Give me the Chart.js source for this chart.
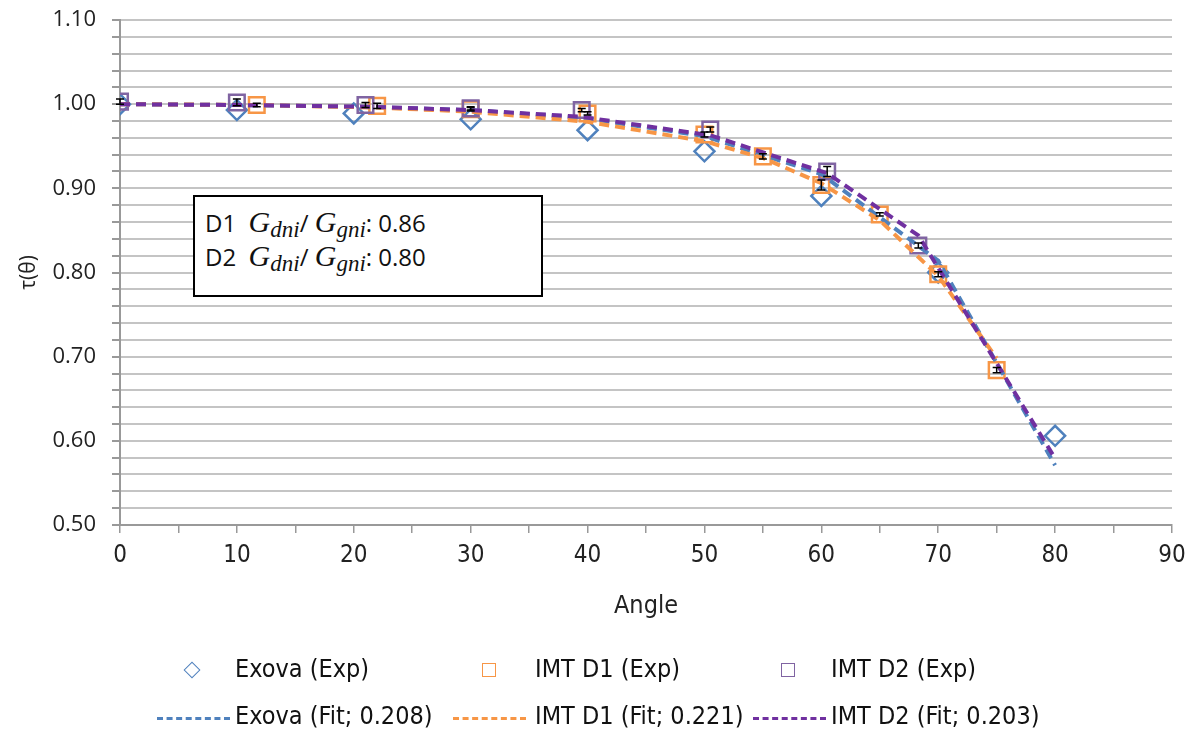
<!DOCTYPE html>
<html>
<head>
<meta charset="utf-8">
<script src="https://cdn.jsdelivr.net/npm/chart.js@4.4.1/dist/chart.umd.min.js"></script>
<style>
    body { margin: 0; background: #fff; }
    #wrap { position: relative; width: 1199px; height: 736px; }
    #chart { position: absolute; left: 0; top: 0; }
    .note {
        position: absolute; left: 193px; top: 195px; width: 346px; height: 98px;
        border: 2px solid #000; background: #fff;
        font-family: 'Open Sans', sans-serif; font-size: 24px; color: #111;
    }
    .note div { position: absolute; left: 10px; white-space: nowrap; }
    .note i { font-family: 'Liberation Serif', serif; font-size: 30px; }
    .note sub { font-family: 'Liberation Serif', serif; font-style: italic; font-size: 23px; vertical-align: -5px; }
    .legend { position: absolute; font-family: 'DejaVu Sans Condensed', sans-serif; font-size: 25px; color: #111; white-space: nowrap; }
    .mk { position: absolute; box-sizing: border-box; }
</style>
</head>
<body>
<div id="wrap">
    <canvas id="chart" width="1199" height="736"></canvas>
    <div class="note">
        <div style="top:8px">D1&nbsp;&nbsp;<i>G</i><sub>dni</sub>/ <i>G</i><sub>gni</sub>: 0.86</div>
        <div style="top:42px">D2&nbsp;&nbsp;<i>G</i><sub>dni</sub>/ <i>G</i><sub>gni</sub>: 0.80</div>
    </div>
    <div id="legend"></div>
</div>
<script>
// measured points
const angleExova = [0, 10, 20, 30, 40, 50, 60, 70, 80];
const tauExova = [1.000, 0.993, 0.989, 0.982, 0.969, 0.944, 0.891, 0.800, 0.606];

const angleD1 = [11.7, 22, 30, 40, 50, 55, 60, 65, 70, 75];
const tauD1 = [0.999, 0.998, 0.994, 0.989, 0.964, 0.938, 0.904, 0.869, 0.798, 0.684];
const errD1 = [0.002, 0.003, 0.002, 0.002, 0.003, 0.003, 0.006, 0.002, 0.003, 0.003];

const angleD2 = [0, 10, 21, 30, 39.5, 50.5, 60.5, 68.3];
const tauD2 = [1.003, 1.002, 0.999, 0.995, 0.993, 0.970, 0.920, 0.832];
const errD2 = [0.003, 0.004, 0.003, 0.002, 0.002, 0.003, 0.006, 0.003];

// fitted curves
const fitAngleExova = [0, 10, 20, 30, 40, 50, 60, 70, 80];
const fitExova = [1.000, 0.999, 0.997, 0.993, 0.983, 0.962, 0.917, 0.814, 0.571];

const fitAngleD1 = [0, 11.7, 22, 30, 40, 50, 55, 60, 65, 70, 75];
const fitD1 = [1.000, 0.999, 0.996, 0.991, 0.979, 0.956, 0.936, 0.906, 0.862, 0.796, 0.698];

const fitAngleD2 = [0, 10, 21, 30, 39.5, 50.5, 60.5, 68.3, 80];
const fitD2 = [1.000, 0.999, 0.997, 0.993, 0.985, 0.963, 0.918, 0.844, 0.579];

const legendRow1 = ['Exova (Exp)', 'IMT D1 (Exp)', 'IMT D2 (Exp)'];
const legendRow2 = ['Exova (Fit; 0.208)', 'IMT D1 (Fit; 0.221)', 'IMT D2 (Fit; 0.203)'];

const BLUE = '#4f81bd';
const ORANGE = '#f79646';
const PURPLE = '#8064a2';
const PURPLE_LINE = '#7030a0';
const GRID = '#c4c4c4';
const NARROW = "'DejaVu Sans Condensed', sans-serif";

function toPoints(xs, ys) {
    return xs.map((x, i) => ({ x: x, y: ys[i] }));
}

function expSet(label, xs, ys, color, style, radius, errs, order) {
    return {
        label: label,
        data: toPoints(xs, ys),
        errors: errs,
        showLine: false,
        pointStyle: style,
        pointRadius: radius,
        pointBorderWidth: 2.5,
        pointBorderColor: color,
        pointBackgroundColor: 'rgba(0,0,0,0)',
        order: order
    };
}

function fitSet(label, xs, ys, color, order) {
    return {
        label: label,
        data: toPoints(xs, ys),
        showLine: true,
        borderColor: color,
        borderWidth: 4,
        borderDash: [10, 6],
        pointRadius: 0,
        tension: 0,
        order: order
    };
}

// small black error bars on the IMT points
const errorBars = {
    id: 'errorBars',
    afterDatasetsDraw(chart) {
        const ctx = chart.ctx;
        const y = chart.scales.y;
        ctx.save();
        ctx.strokeStyle = '#000';
        ctx.lineWidth = 1.5;
        chart.data.datasets.forEach((ds, i) => {
            if (!ds.errors) return;
            chart.getDatasetMeta(i).data.forEach((pt, j) => {
                const v = ds.data[j].y;
                const top = y.getPixelForValue(v + ds.errors[j]);
                const bot = y.getPixelForValue(v - ds.errors[j]);
                ctx.beginPath();
                ctx.moveTo(pt.x, top); ctx.lineTo(pt.x, bot);
                ctx.moveTo(pt.x - 4, top); ctx.lineTo(pt.x + 4, top);
                ctx.moveTo(pt.x - 4, bot); ctx.lineTo(pt.x + 4, bot);
                ctx.stroke();
            });
        });
        ctx.restore();
    }
};

function buildLegend() {
    const box = document.getElementById('legend');
    const marks = [
        { left: 186, top: 664, w: 12, h: 12, css: 'border:1.5px solid ' + BLUE + ';transform:rotate(45deg);' },
        { left: 482, top: 663, w: 14, h: 14, css: 'border:1.5px solid ' + ORANGE + ';' },
        { left: 781, top: 663, w: 14, h: 14, css: 'border:1.5px solid ' + PURPLE + ';' },
        { left: 157, top: 717, w: 73, h: 3, css: 'border-top:3px dashed ' + BLUE + ';' },
        { left: 453, top: 717, w: 73, h: 3, css: 'border-top:3px dashed ' + ORANGE + ';' },
        { left: 753, top: 717, w: 73, h: 3, css: 'border-top:3px dashed ' + PURPLE_LINE + ';' }
    ];
    marks.forEach(m => {
        const d = document.createElement('div');
        d.className = 'mk';
        d.style.cssText = `left:${m.left}px;top:${m.top}px;width:${m.w}px;height:${m.h}px;` + m.css;
        box.appendChild(d);
    });
    const textPos = [[235, 654], [535, 654], [831, 654], [235, 701], [535, 701], [831, 701]];
    legendRow1.concat(legendRow2).forEach((t, i) => {
        const d = document.createElement('div');
        d.className = 'legend';
        d.style.left = textPos[i][0] + 'px';
        d.style.top = textPos[i][1] + 'px';
        d.textContent = t;
        box.appendChild(d);
    });
}

document.addEventListener('DOMContentLoaded', () => {
    buildLegend();

    const ctx = document.getElementById('chart').getContext('2d');
    new Chart(ctx, {
        type: 'scatter',
        data: {
            datasets: [
                fitSet(legendRow2[2], fitAngleD2, fitD2, PURPLE_LINE, 1),
                fitSet(legendRow2[1], fitAngleD1, fitD1, ORANGE, 2),
                fitSet(legendRow2[0], fitAngleExova, fitExova, BLUE, 3),
                expSet(legendRow1[2], angleD2, tauD2, PURPLE, 'rect', 11, errD2, 4),
                expSet(legendRow1[1], angleD1, tauD1, ORANGE, 'rect', 11, errD1, 5),
                expSet(legendRow1[0], angleExova, tauExova, BLUE, 'rectRot', 10, null, 6)
            ]
        },
        options: {
            responsive: false,
            animation: false,
            layout: { padding: { left: 0, right: 27, top: 20, bottom: 111 } },
            scales: {
                x: {
                    type: 'linear',
                    min: 0,
                    max: 90,
                    afterFit: (s) => { s.height = 100; },
                    ticks: {
                        stepSize: 5,
                        autoSkip: false,
                        maxRotation: 0,
                        color: '#222',
                        padding: 8,
                        font: { family: NARROW, size: 24 },
                        callback: (v) => (v % 10 === 0 ? v : '')
                    },
                    grid: { drawOnChartArea: false, drawTicks: true, tickLength: 8, color: '#999', lineWidth: 1.5 },
                    border: { display: true, color: '#999', width: 2 },
                    title: {
                        display: true,
                        text: 'Angle',
                        color: '#222',
                        padding: { top: 4 },
                        font: { family: NARROW, size: 25 }
                    }
                },
                y: {
                    min: 0.5,
                    max: 1.1,
                    afterFit: (s) => { s.width = 120; s.paddingTop = 0; s.paddingBottom = 0; },
                    ticks: {
                        stepSize: 0.02,
                        autoSkip: false,
                        color: '#222',
                        padding: 16,
                        font: { family: "'Open Sans', sans-serif", size: 22 },
                        callback: (v) => {
                            const r = Math.round(v * 100);
                            return r % 10 === 0 ? (r / 100).toFixed(2) : '';
                        }
                    },
                    grid: { color: GRID, lineWidth: 2, tickLength: 8, tickColor: '#999' },
                    border: { display: true, color: '#999', width: 2 },
                    title: {
                        display: true,
                        text: 'τ(θ)',
                        color: '#222',
                        padding: { top: 16, bottom: 0 },
                        font: { family: "'Open Sans', sans-serif", size: 21 }
                    }
                }
            },
            plugins: {
                legend: { display: false },
                tooltip: { enabled: false }
            }
        },
        plugins: [errorBars]
    });
});
</script>
</body>
</html>
